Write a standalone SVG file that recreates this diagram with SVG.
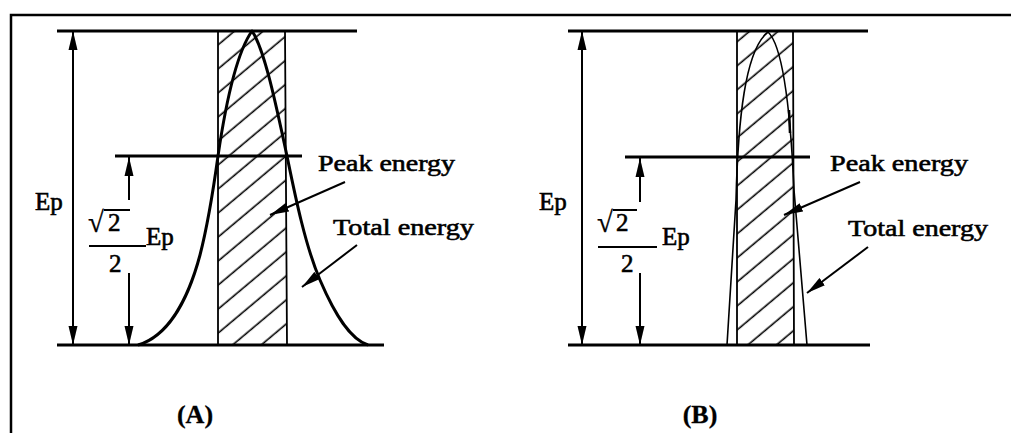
<svg xmlns="http://www.w3.org/2000/svg" width="1011" height="433" viewBox="0 0 1011 433">
<style>
.bg{fill:#fff}
.frame{fill:none;stroke:#000;stroke-width:2.5}
.lvl{stroke:#000;stroke-width:3;fill:none}
.dim{stroke:#000;stroke-width:2;fill:none}
.edge{fill:url(#hatch);stroke:#000;stroke-width:1.8}
.curve{fill:none;stroke:#000;stroke-width:3;stroke-linejoin:round}
.thin{fill:none;stroke:#000;stroke-width:1.6;stroke-linejoin:round}
text{font-family:"Liberation Serif","Times New Roman",serif;fill:#000;stroke:#000;stroke-width:0.6}
.lbl{font-size:24px}
.ep{font-size:25px}
.num{font-size:25px}
.rad{font-size:29px;stroke-width:0.3}
.cap{font-size:26px;font-weight:bold;stroke-width:0.3}
</style>
<defs>
<pattern id="hatch" patternUnits="userSpaceOnUse" width="18.4" height="18.4" patternTransform="rotate(-40)">
<line x1="-2" y1="9" x2="21" y2="9" stroke="#000" stroke-width="1.6"/>
</pattern>
<marker id="ah" markerUnits="userSpaceOnUse" markerWidth="20" markerHeight="10" refX="19" refY="5" orient="auto-start-reverse">
<path d="M0,0.5 L19,5 L0,9.5 z" fill="#000"/>
</marker>
</defs>
<rect class="bg" x="0" y="0" width="1011" height="433"/>
<path class="frame" d="M11,433 L11,15 L1011,15"/>

<g id="panelA">
<g id="A-levels">
<line class="lvl" x1="57" y1="31" x2="357" y2="31"/>
<line class="lvl" x1="115" y1="156" x2="302" y2="156"/>
<line class="lvl" x1="57" y1="345" x2="384" y2="345"/>
</g>
<g id="A-peak-band">
<polygon class="edge" points="218,31 285,31 287,345 218,345"/>
</g>
<g id="A-total-curve">
<path class="curve" d="M138,345 C168,336 188,300 200,255 C209,220 214,185 218,156 C224,115 235,55 252,31 C265,50 277,110 287,156 C295,195 305,245 320,280 C335,315 350,339 368,345"/>
</g>
<g id="A-labels">
<text class="ep" x="35" y="210">Ep</text>
<text class="rad" x="88" y="232">√</text>
<line x1="104" y1="210" x2="130" y2="210" stroke="#000" stroke-width="2"/>
<text class="num" x="108" y="231">2</text>
<line x1="89" y1="246" x2="146" y2="246" stroke="#000" stroke-width="2"/>
<text class="num" x="109" y="272">2</text>
<text class="ep" x="146" y="245">Ep</text>
<text class="lbl" x="318" y="171" textLength="137" lengthAdjust="spacingAndGlyphs">Peak energy</text>
<text class="lbl" x="333" y="235" textLength="141" lengthAdjust="spacingAndGlyphs">Total energy</text>
<text class="cap" x="195" y="423" text-anchor="middle">(A)</text>
</g>
</g>

<g id="panelB">
<g id="B-levels">
<line class="lvl" x1="568" y1="31" x2="868" y2="31"/>
<line class="lvl" x1="625" y1="157" x2="810" y2="157"/>
<line class="lvl" x1="568" y1="345" x2="870" y2="345"/>
</g>
<g id="B-peak-band">
<polygon class="edge" points="737,31 793,31 794,345 737,345"/>
</g>
<g id="B-total-curve">
<path class="thin" d="M727,345 L736,200 C738,120 745,50 768,32 C782,45 790,100 794,190 L807,345"/>
<line x1="789" y1="110" x2="790" y2="133" stroke="#000" stroke-width="2.5"/>
</g>
<g id="B-labels">
<text class="ep" x="539" y="210">Ep</text>
<text class="rad" x="597" y="232">√</text>
<line x1="613" y1="210" x2="637" y2="210" stroke="#000" stroke-width="2"/>
<text class="num" x="616" y="231">2</text>
<line x1="598" y1="247" x2="657" y2="247" stroke="#000" stroke-width="2"/>
<text class="num" x="621" y="272">2</text>
<text class="ep" x="662" y="245">Ep</text>
<text class="lbl" x="830" y="171" textLength="138" lengthAdjust="spacingAndGlyphs">Peak energy</text>
<text class="lbl" x="848" y="236" textLength="140" lengthAdjust="spacingAndGlyphs">Total energy</text>
<text class="cap" x="700" y="423" text-anchor="middle">(B)</text>
</g>
</g>

<g id="connectors">
<line class="dim" x1="73" y1="31" x2="73" y2="345" marker-start="url(#ah)" marker-end="url(#ah)"/>
<line class="dim" x1="129" y1="200" x2="129" y2="157" marker-end="url(#ah)"/>
<line class="dim" x1="129" y1="273" x2="129" y2="345" marker-end="url(#ah)"/>
<line class="dim" x1="345" y1="182" x2="270" y2="215" marker-end="url(#ah)"/>
<line class="dim" x1="357" y1="245" x2="302" y2="287" marker-end="url(#ah)"/>
<line class="dim" x1="582" y1="31" x2="582" y2="345" marker-start="url(#ah)" marker-end="url(#ah)"/>
<line class="dim" x1="640" y1="202" x2="640" y2="158" marker-end="url(#ah)"/>
<line class="dim" x1="640" y1="273" x2="640" y2="345" marker-end="url(#ah)"/>
<line class="dim" x1="860" y1="182" x2="784" y2="215" marker-end="url(#ah)"/>
<line class="dim" x1="868" y1="247" x2="807" y2="293" marker-end="url(#ah)"/>
</g>
</svg>
